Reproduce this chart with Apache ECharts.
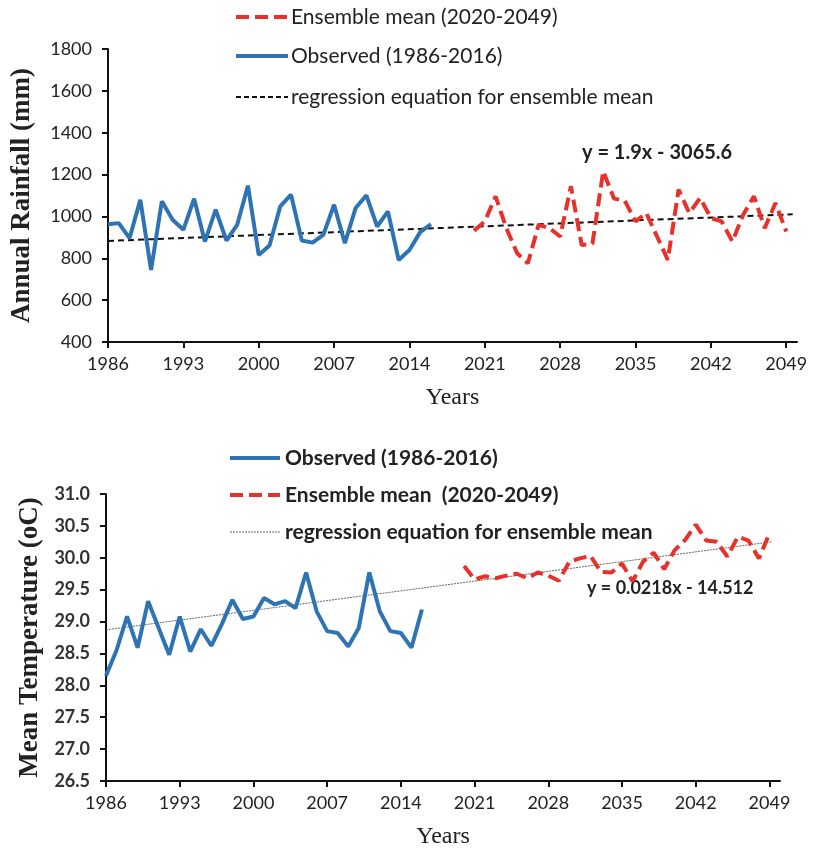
<!DOCTYPE html>
<html>
<head>
<meta charset="utf-8">
<script src="https://cdn.jsdelivr.net/npm/echarts@6/dist/echarts.min.js"></script>
<style>
html,body{margin:0;padding:0;background:#fff;}
#c{width:817px;height:850px;}
</style>
</head>
<body>
<div id="c"></div>
<script>
// ---------- DATA ----------
var obsYears = [1986,1987,1988,1989,1990,1991,1992,1993,1994,1995,1996,1997,1998,1999,2000,2001,2002,2003,2004,2005,2006,2007,2008,2009,2010,2011,2012,2013,2014,2015,2016];
var ensYears = [2020,2021,2022,2023,2024,2025,2026,2027,2028,2029,2030,2031,2032,2033,2034,2035,2036,2037,2038,2039,2040,2041,2042,2043,2044,2045,2046,2047,2048,2049];

var rainObserved = [963,968,896,1080,744,1072,984,936,1085,880,1032,885,960,1147,816,861,1048,1104,885,875,912,1056,872,1040,1101,952,1024,792,840,925,963];
var rainEnsemble = [931,976,1096,944,824,776,960,944,904,1144,863,870,1216,1085,1075,976,1016,904,792,1128,1016,1088,992,976,880,1008,1096,944,1064,928];
var rainRegYears = [1986,2049.6];
var rainRegValues = [883,1010];

var tempObserved = [28.15,28.55,29.08,28.59,29.32,28.90,28.48,29.08,28.53,28.88,28.62,28.96,29.34,29.04,29.08,29.37,29.27,29.32,29.21,29.77,29.16,28.85,28.82,28.61,28.90,29.77,29.16,28.85,28.82,28.59,29.19];
var tempEnsemble = [29.87,29.66,29.71,29.68,29.72,29.75,29.68,29.77,29.72,29.64,29.94,29.99,30.03,29.78,29.77,29.91,29.63,29.94,30.08,29.82,30.12,30.28,30.52,30.27,30.25,30.02,30.33,30.27,29.99,30.38];
var tempRegYears = [1986,2049.2];
var tempRegValues = [28.87,30.25];

var yearTicks = [1986,1993,2000,2007,2014,2021,2028,2035,2042,2049];

var nameObs = 'Observed (1986-2016)';
var nameEnsTop = 'Ensemble mean (2020-2049)';
var nameEnsBot = 'Ensemble mean  (2020-2049)';
var nameReg = 'regression equation for ensemble mean';
var eqTop = 'y = 1.9x - 3065.6';
var eqBot = 'y = 0.0218x - 14.512';

function pairs(xs, ys){ return xs.map(function(x,i){ return [x, ys[i]]; }); }

var BLUE = '#2e74b5', RED = '#e8312a';
var sans = 'Lato';
var serif = 'Liberation Serif';

var styles = {
  obs:{stroke:BLUE, lineWidth:4, lineDash:null},
  ens:{stroke:RED, lineWidth:4, lineDash:[13,6]},
  regTop:{stroke:'#111', lineWidth:2, lineDash:[5,3]},
  regBot:{stroke:'#666', lineWidth:1, lineDash:[2,1]}
};

function xAxisCfg(gi){
  return {
    type:'value', gridIndex:gi, min:1986, max:2050,
    name:'Years', nameLocation:'middle', nameGap:44,
    nameTextStyle:{fontFamily:serif, fontSize:24, color:'#222'},
    axisLine:{lineStyle:{color:'#111', width:2}},
    axisTick:{show:true, length:6, inside:false, lineStyle:{color:'#111', width:2}, customValues:yearTicks},
    axisLabel:{fontFamily:sans, fontSize:18, color:'#222', margin:13, customValues:yearTicks,
      formatter:function(v){return String(v);}},
    splitLine:{show:false}
  };
}

function legendItems(x0, x1, tx, rows, font){
  var els = [];
  rows.forEach(function(r){
    els.push({type:'line', silent:true, shape:{x1:x0, y1:r.y, x2:x1, y2:r.y},
      style:{stroke:r.s.stroke, lineWidth:r.s.lineWidth, lineDash:r.s.lineDash}});
    els.push({type:'text', silent:true, x:tx, y:r.y,
      style:{text:r.name, font:font, fill:'#222', verticalAlign:'middle', align:'left'}});
  });
  return els;
}

var graphics = []
  .concat(legendItems(236, 288, 291, [
    {y:17, name:nameEnsTop, s:styles.ens},
    {y:56, name:nameObs, s:styles.obs},
    {y:97, name:nameReg, s:styles.regTop}
  ], '21px Lato'))
  .concat(legendItems(230, 280, 285, [
    {y:458, name:nameObs, s:styles.obs},
    {y:495, name:nameEnsBot, s:styles.ens},
    {y:532, name:nameReg, s:styles.regBot}
  ], 'bold 21px Lato'))
  .concat([
    {type:'text', x:582, y:153, style:{text:eqTop, font:'bold 20px Lato', fill:'#222', verticalAlign:'middle'}},
    {type:'text', x:587, y:588, style:{text:eqBot, font:'bold 18px Lato', fill:'#222', verticalAlign:'middle'}}
  ]);

var option = {
  animation:false,
  backgroundColor:'#fff',
  grid:[
    {left:108, right:20, top:49, height:293},
    {left:106, right:37, top:494, height:289}
  ],
  xAxis:[xAxisCfg(0), xAxisCfg(1)],
  yAxis:[
    {type:'value', gridIndex:0, min:400, max:1800, interval:200,
     name:'Annual Rainfall (mm)', nameLocation:'middle', nameGap:72, nameRotate:90,
     nameTextStyle:{fontFamily:serif, fontSize:27, fontWeight:'bold', color:'#222'},
     axisLine:{show:true, lineStyle:{color:'#111', width:2}},
     axisTick:{show:true, length:6, lineStyle:{color:'#111', width:2}},
     axisLabel:{fontFamily:sans, fontSize:18, color:'#222', margin:16,
       formatter:function(v){return String(v);}},
     splitLine:{show:false}},
    {type:'value', gridIndex:1, min:26.5, max:31.0, interval:0.5,
     name:'Mean Temperature (oC)', nameLocation:'middle', nameGap:62, nameRotate:90,
     nameTextStyle:{fontFamily:serif, fontSize:27, fontWeight:'bold', color:'#222'},
     axisLine:{show:true, lineStyle:{color:'#111', width:2}},
     axisTick:{show:true, length:6, lineStyle:{color:'#111', width:2}},
     axisLabel:{fontFamily:sans, fontSize:18, fontWeight:'bold', color:'#333', margin:16,
       formatter:function(v){return v.toFixed(1);}},
     splitLine:{show:false}}
  ],
  graphic:graphics,
  series:[
    {name:nameReg, type:'line', xAxisIndex:0, yAxisIndex:0, symbol:'none', z:1,
     data:pairs(rainRegYears, rainRegValues), lineStyle:{color:'#111', width:2, type:[6,4]}},
    {name:nameObs, type:'line', xAxisIndex:0, yAxisIndex:0, symbol:'none', z:3,
     data:pairs(obsYears, rainObserved), lineStyle:{color:BLUE, width:4}},
    {name:nameEnsTop, type:'line', xAxisIndex:0, yAxisIndex:0, symbol:'none', z:3,
     data:pairs(ensYears, rainEnsemble), lineStyle:{color:RED, width:4, type:[13,6]}},

    {name:nameReg, type:'line', xAxisIndex:1, yAxisIndex:1, symbol:'none', z:1,
     data:pairs(tempRegYears, tempRegValues), lineStyle:{color:'#666', width:1, type:[2,1]}},
    {name:nameObs, type:'line', xAxisIndex:1, yAxisIndex:1, symbol:'none', z:3,
     data:pairs(obsYears, tempObserved), lineStyle:{color:BLUE, width:4}},
    {name:nameEnsBot, type:'line', xAxisIndex:1, yAxisIndex:1, symbol:'none', z:3,
     data:pairs(ensYears, tempEnsemble), lineStyle:{color:RED, width:4, type:[13,6]}}
  ]
};

var chart = echarts.init(document.getElementById('c'), null, {renderer:'canvas'});
chart.setOption(option);
</script>
</body>
</html>
